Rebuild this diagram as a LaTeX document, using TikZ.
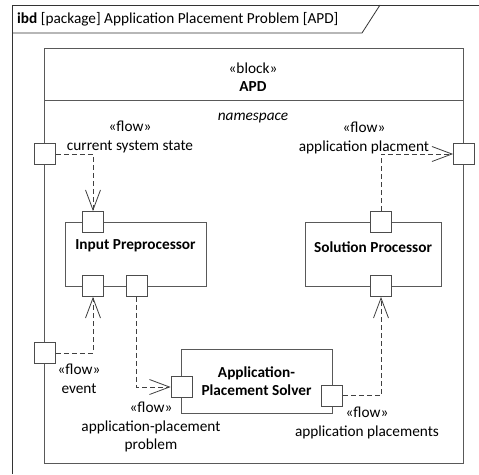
\documentclass[tikz,border=0pt]{standalone}
\usepackage{fontspec}
\setmainfont{Carlito}
\usetikzlibrary{arrows.meta, positioning}

\begin{document}
\begin{tikzpicture}[x=1pt, y=-1pt,
  font=\fontsize{15.3}{18.5}\selectfont,
  edge/.style={draw=black!65, line width=0.8pt},
  port/.style={draw=black!70, line width=0.8pt, fill=white, minimum size=21pt, inner sep=0pt},
  part/.style={draw=black!65, line width=0.8pt, minimum height=64pt, inner sep=0pt},
  partname/.style={font=\fontsize{15.3}{18.5}\selectfont\bfseries, align=center},
  flowlbl/.style={align=center, inner sep=0pt},
  flow/.style={draw=black!75, line width=0.8pt, dash pattern=on 5pt off 3pt,
    -{Straight Barb[length=20pt, width=15pt]}}]
\useasboundingbox (0,0) rectangle (479,474);

% frame
\draw[edge, draw=black!80] (12,474) -- (12,5) -- (479,5);
\draw[edge, draw=black!80] (12,33) -- (362,33) -- (380,5);
\node[anchor=west, inner sep=0pt] (title) at (17,19)
  {\textbf{ibd} [package] Application Placement Problem [APD]};

% block APD
\draw[edge] (44,48) rectangle (463,463);
\draw[edge] (44,100) -- (463,100);
\node[flowlbl] (blk) at (253,77) {«block»\\\textbf{APD}};
\node[inner sep=0pt] (ns) at (253,118) {\itshape namespace};

% parts
\node[part, minimum width=141pt] (pre) at (135.5,254) {};
\node[partname] at ([yshift=8pt]pre.center) {Input Preprocessor};
\node[part, minimum width=136pt] (sol) at (373,254) {};
\node[partname] at ([yshift=7pt]sol.center) {Solution Processor};
\node[part, minimum width=151pt, partname] (solver) at (256.5,381)
  {Application-\\Placement Solver};

% ports
\node[port] (cur) at (45,154) {};
\node[port] (evt) at (45,353) {};
\node[port] (out) at (464,154) {};
\node[port] (preIn) at (93,222) {};
\node[port] (preEvt) at (93,286) {};
\node[port] (preOut) at (136.5,286) {};
\node[port] (solIn) at (381,286) {};
\node[port] (solOut) at (381,222) {};
\node[port] (slvIn) at (181.5,387) {};
\node[port] (slvOut) at (332,395.5) {};

% flows
\draw[flow] (cur.east) -| (preIn.north);
\draw[flow] (evt.east) -| (preEvt.south);
\draw[flow] (preOut.south) |- (slvIn.west);
\draw[flow] (slvOut.east) -| (solIn.south);
\draw[flow] (solOut.north) |- (out.west);

% flow labels
\node[flowlbl] (lCur) at (130,137) {«flow»\\current system state};
\node[flowlbl] (lOut) at (364,138) {«flow»\\application placment};
\node[flowlbl] (lEvt) at (79,379) {«flow»\\event};
\node[flowlbl] (lPrb) at (151,427) {«flow»\\application-placement\\problem};
\node[flowlbl] (lPlc) at (367,423) {«flow»\\application placements};
\end{tikzpicture}
\end{document}
